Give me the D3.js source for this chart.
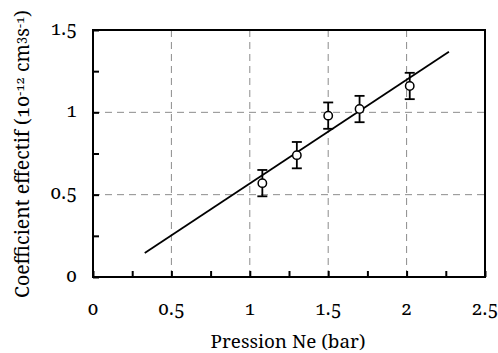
<!DOCTYPE html>
<html><head><meta charset="utf-8">
<script src="https://cdn.jsdelivr.net/npm/d3@7"></script>
<style>body{margin:0;background:#fff}svg{display:block}</style>
</head><body><svg id="c" width="498" height="353"></svg>
<script>
const pressure = [1.08, 1.30, 1.50, 1.70, 2.02];
const coeff = [0.57, 0.74, 0.98, 1.02, 1.16];
const errLow = [0.49, 0.66, 0.90, 0.94, 1.08];
const errHigh = [0.65, 0.82, 1.06, 1.10, 1.24];
const fitX = [0.33, 2.27];
const fitY = [0.146, 1.368];
const xTicks = [0, 0.5, 1, 1.5, 2, 2.5];
const yTicks = [0, 0.5, 1, 1.5];
const xMinor = [0.25, 0.75, 1.25, 1.75, 2.25];
const yMinor = [0.25, 0.75, 1.25];

const FONT = "Noto Serif";
const svg = d3.select("#c");
const L = 93, R = 485, T = 30, B = 277;
const x = d3.scaleLinear().domain([0, 2.5]).range([L, R]);
const y = d3.scaleLinear().domain([0, 1.5]).range([B, T]);

// grid
const g = svg.append("g").attr("stroke", "#8c8c8c").attr("stroke-width", 1).attr("stroke-dasharray", "7,5");
g.selectAll("line.gx").data(xTicks.filter(d => d > 0 && d < 2.5)).join("line")
  .attr("x1", d => x(d)).attr("x2", d => x(d)).attr("y1", B).attr("y2", T);
g.selectAll("line.gy").data(yTicks.filter(d => d > 0 && d < 1.5)).join("line")
  .attr("y1", d => y(d)).attr("y2", d => y(d)).attr("x1", L).attr("x2", R);

// axes with inward ticks
const xAxis = d3.axisBottom(x).tickValues(xTicks.concat(xMinor)).tickSize(-6).tickFormat("");
const yAxis = d3.axisLeft(y).tickValues(yTicks.concat(yMinor)).tickSize(-6).tickFormat("");
const ax = svg.append("g").attr("transform", `translate(0,${B})`).call(xAxis);
const ay = svg.append("g").attr("transform", `translate(${L},0)`).call(yAxis);
[ax, ay].forEach(a => {
  a.select(".domain").remove();
  a.selectAll(".tick line").attr("stroke", "#000").attr("stroke-width", 2);
});
svg.append("rect").attr("x", L).attr("y", T).attr("width", R - L).attr("height", B - T)
  .attr("fill", "none").attr("stroke", "#000").attr("stroke-width", 2);

const txt = svg.append("g").attr("font-family", FONT).attr("fill", "#000")
  .style("font-variant-numeric", "oldstyle-nums");

// tick labels
txt.selectAll("text.xl").data(xTicks).join("text")
  .attr("x", d => x(d)).attr("y", 315).attr("text-anchor", "middle").attr("font-size", 19)
  .text(d => d3.format("")(d));
txt.selectAll("text.yl").data(yTicks).join("text")
  .attr("x", 77).attr("y", d => y(d) + 4.5).attr("text-anchor", "end").attr("font-size", 19)
  .text(d => d3.format("")(d));

// titles
const xt = txt.append("text").attr("x", 288).attr("y", 348).attr("text-anchor", "middle").attr("font-size", 15)
  .text("Pression Ne (bar)");
{
  const w = xt.node().getComputedTextLength();
  xt.attr("font-size", 15 * 155 / w);
}
const yt = txt.append("text").attr("transform", "translate(29,154) rotate(-90)")
  .attr("text-anchor", "middle").attr("font-size", 15);
yt.append("tspan").text("Coefficient effectif (10");
yt.append("tspan").attr("dy", "-0.4em").attr("font-size", "0.65em").text("-12");
yt.append("tspan").attr("dy", "0.26em").text(" cm");
yt.append("tspan").attr("dy", "-0.4em").attr("font-size", "0.65em").text("3");
yt.append("tspan").attr("dy", "0.26em").text("s");
yt.append("tspan").attr("dy", "-0.4em").attr("font-size", "0.65em").text("-1");
yt.append("tspan").attr("dy", "0.26em").text(")");
{
  const w = yt.node().getBBox().width;
  yt.attr("font-size", 15 * 288 / w);
}

// fit line
svg.append("line").attr("x1", x(fitX[0])).attr("y1", y(fitY[0])).attr("x2", x(fitX[1])).attr("y2", y(fitY[1]))
  .attr("stroke", "#000").attr("stroke-width", 1.8);

// error bars
const data = pressure.map((p, i) => ({p, c: coeff[i], lo: errLow[i], hi: errHigh[i]}));
const eb = svg.append("g").attr("stroke", "#000").attr("stroke-width", 1.8);
eb.selectAll("line.v").data(data).join("line")
  .attr("x1", d => x(d.p)).attr("x2", d => x(d.p)).attr("y1", d => y(d.lo)).attr("y2", d => y(d.hi));
eb.selectAll("line.t").data(data).join("line")
  .attr("x1", d => x(d.p) - 5).attr("x2", d => x(d.p) + 5).attr("y1", d => y(d.hi)).attr("y2", d => y(d.hi));
eb.selectAll("line.b").data(data).join("line")
  .attr("x1", d => x(d.p) - 5).attr("x2", d => x(d.p) + 5).attr("y1", d => y(d.lo)).attr("y2", d => y(d.lo));
svg.selectAll("circle").data(data).join("circle")
  .attr("cx", d => x(d.p)).attr("cy", d => y(d.c)).attr("r", 4.2)
  .attr("fill", "#fff").attr("stroke", "#000").attr("stroke-width", 1.5);
</script></body></html>
